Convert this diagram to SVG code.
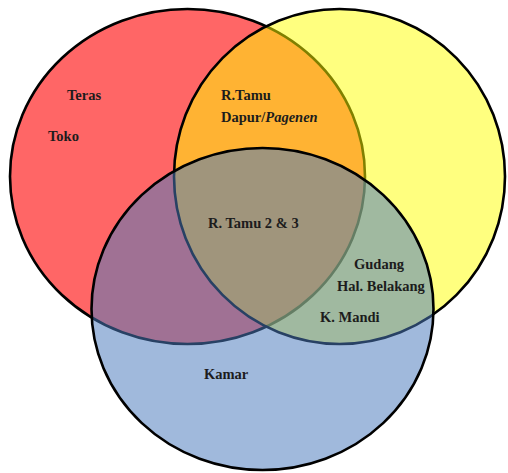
<svg xmlns="http://www.w3.org/2000/svg" width="508" height="473" viewBox="0 0 508 473">
<style>
.set{stroke:#000;stroke-width:2.6}
.lbl{font-family:"Liberation Serif","Times New Roman",serif;font-size:14.5px;font-weight:bold;fill:#1c1c1c}
</style>
<rect width="508" height="473" fill="#fff"/>
<g id="set-red">
<ellipse class="set" cx="187.5" cy="176.5" rx="177.5" ry="167.5" fill="#FF6666"/>
</g>
<g id="set-yellow">
<ellipse class="set" cx="339.5" cy="176.5" rx="165.5" ry="167.5" fill="#FFFF00" fill-opacity="0.5"/>
</g>
<g id="set-blue">
<ellipse class="set" cx="262.5" cy="309" rx="171" ry="161" fill="#4B7ABD" fill-opacity="0.53"/>
</g>
<g id="labels">
<text class="lbl" x="67" y="100">Teras</text>
<text class="lbl" x="48" y="141">Toko</text>
<text class="lbl" x="221" y="100">R.Tamu</text>
<text class="lbl" x="221" y="122">Dapur/<tspan font-style="italic">Pagenen</tspan></text>
<text class="lbl" x="208" y="228">R. Tamu 2 &amp; 3</text>
<text class="lbl" x="354" y="269">Gudang</text>
<text class="lbl" x="337" y="291">Hal. Belakang</text>
<text class="lbl" x="320" y="322">K. Mandi</text>
<text class="lbl" x="204" y="379">Kamar</text>
</g>
</svg>
